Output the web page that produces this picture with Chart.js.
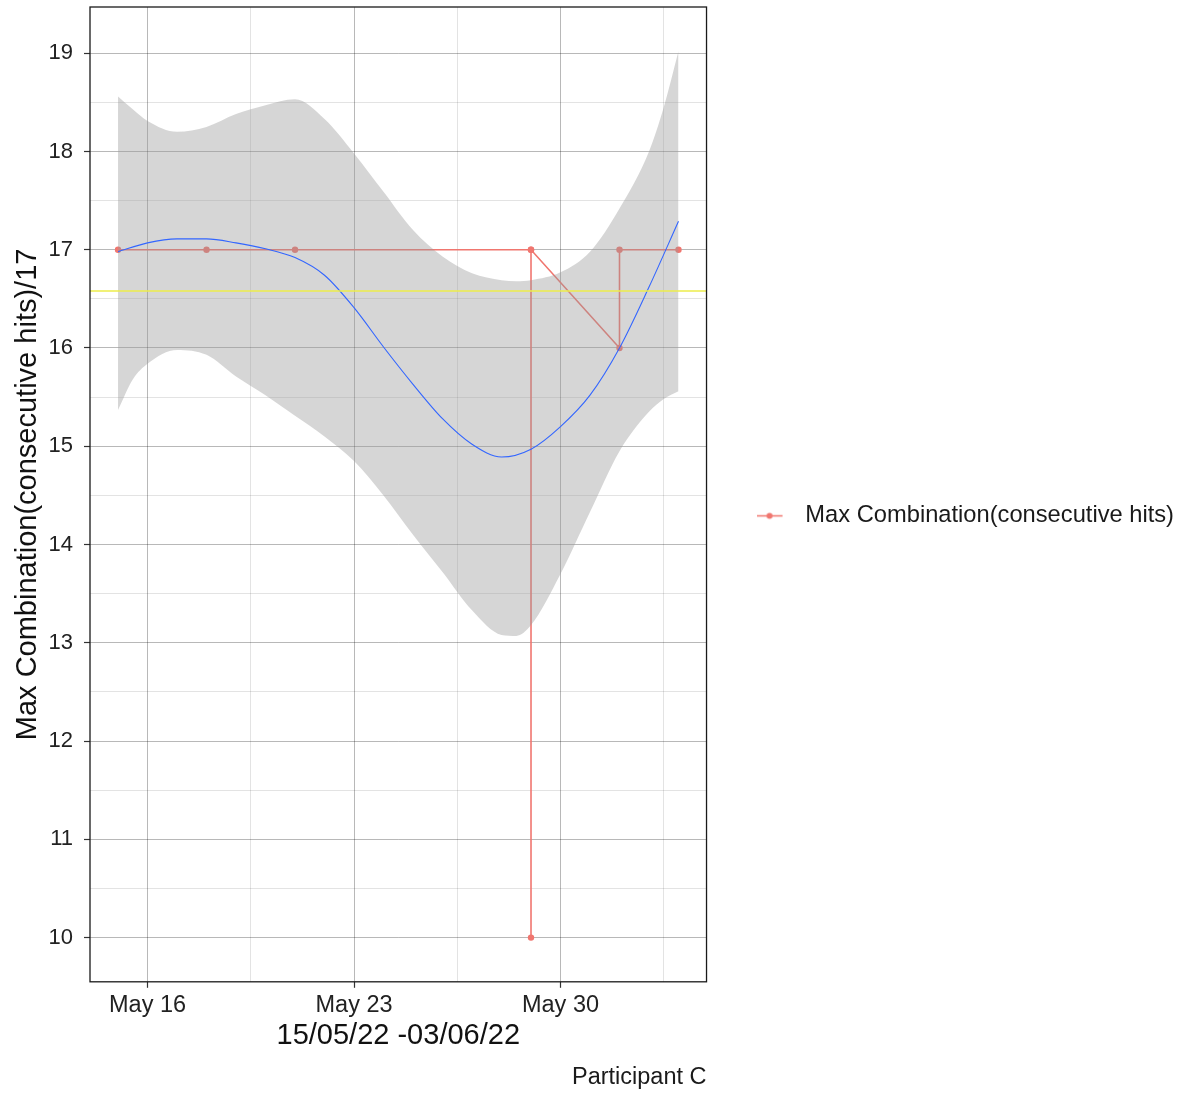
<!DOCTYPE html>
<html>
<head>
<meta charset="utf-8">
<script src="https://cdn.jsdelivr.net/npm/chart.js@4.4.0/dist/chart.umd.min.js"></script>
<style>
  html, body { margin: 0; padding: 0; background: #fff; }
  canvas { display: block; }
</style>
</head>
<body>
<canvas id="chart" width="1186" height="1095"></canvas>
<script>
// observations in plotting order (several readings on May 29 and Jun 1)
const obsDates = ['2022-05-15', '2022-05-18', '2022-05-21', '2022-05-29', '2022-05-29', '2022-05-29', '2022-06-01', '2022-06-01', '2022-06-03'];
const obsValues = [17, 17, 17, 17, 10, 17, 16, 17, 17];

// smoothed fit, x in days after May 16
const smoothDays = [-1, 0, 1, 2, 3, 4, 5, 6, 7, 8, 9, 10, 11, 12, 13, 14, 15, 16, 17, 18];
const smoothFit = [16.98, 17.07, 17.11, 17.11, 17.07, 17.01, 16.92, 16.74, 16.41, 16.01, 15.63, 15.28, 15.02, 14.89, 14.97, 15.2, 15.52, 16.0, 16.62, 17.29];

// confidence band round the fit
const bandDays = [-1, -0.5, 0, 1, 2, 3, 4, 5, 6, 7, 8, 9, 10, 11, 12, 12.5, 13, 14, 15, 16, 17, 17.5, 18];
const bandLower = [15.37, 15.68, 15.84, 15.98, 15.93, 15.71, 15.52, 15.31, 15.1, 14.85, 14.5, 14.1, 13.72, 13.33, 13.08, 13.07, 13.18, 13.7, 14.33, 14.95, 15.35, 15.48, 15.56];
const bandUpper = [18.56, 18.43, 18.31, 18.2, 18.25, 18.38, 18.47, 18.53, 18.33, 17.98, 17.59, 17.2, 16.93, 16.76, 16.69, 16.68, 16.69, 16.77, 16.98, 17.42, 18.0, 18.45, 19.02];

const meanLine = 16.58;

const xTickDays = [0, 7, 14];
const xTickLabels = ['May 16', 'May 23', 'May 30'];
const yTickValues = [10, 11, 12, 13, 14, 15, 16, 17, 18, 19];
const xRange = [-1.95, 18.95];
const yRange = [9.55, 19.47];

const red = '#F0766F';
const majorGrid = 'rgba(0,0,0,0.28)';
const minorGrid = 'rgba(0,0,0,0.11)';

const day0 = Date.parse('2022-05-16');
const dayOf = s => (Date.parse(s) - day0) / 86400000;
const pairs = (xs, ys) => xs.map((x, i) => ({ x: x, y: ys[i] }));

const xMinor = xTickDays.map(d => d + 3.5);
const yMinor = yTickValues.map(v => v + 0.5).filter(v => v < yRange[1]);
const isMajorX = v => xTickDays.includes(v);
const isMajorY = v => Number.isInteger(v);

// legend key: short line with a dot
const key = document.createElement('canvas');
key.width = 37; key.height = 9;
const k = key.getContext('2d');
k.strokeStyle = red; k.lineWidth = 1.5;
k.beginPath(); k.moveTo(0, 4.5); k.lineTo(26, 4.5); k.stroke();
k.fillStyle = red;
k.beginPath(); k.arc(13, 4.5, 3, 0, Math.PI * 2); k.fill();

const panelBorder = {
  id: 'panelBorder',
  afterDatasetsDraw(chart) {
    const { ctx, chartArea: a } = chart;
    ctx.save();
    ctx.strokeStyle = '#1a1a1a';
    ctx.lineWidth = 1.3;
    ctx.strokeRect(a.left, a.top, a.right - a.left, a.bottom - a.top);
    ctx.restore();
  }
};

const noPad = s => { s.paddingTop = 0; s.paddingBottom = 0; s.paddingLeft = 0; s.paddingRight = 0; };

Chart.defaults.font.family = '"Liberation Sans", Arial, sans-serif';
Chart.defaults.color = '#1a1a1a';

new Chart(document.getElementById('chart').getContext('2d'), {
  type: 'line',
  data: {
    datasets: [
      {
        label: 'Max Combination(consecutive hits)',
        data: pairs(obsDates.map(dayOf), obsValues),
        borderColor: red, backgroundColor: red,
        borderWidth: 1.6, pointRadius: 3.2, pointBorderWidth: 0,
        order: 5
      },
      {
        label: 'lower',
        data: pairs(bandDays, bandLower),
        borderWidth: 0, pointRadius: 0, fill: false,
        cubicInterpolationMode: 'monotone', order: 4
      },
      {
        label: 'upper',
        data: pairs(bandDays, bandUpper),
        borderWidth: 0, pointRadius: 0, fill: '-1',
        backgroundColor: 'rgba(153,153,153,0.4)',
        cubicInterpolationMode: 'monotone', order: 4
      },
      {
        label: 'fit',
        data: pairs(smoothDays, smoothFit),
        borderColor: '#3366FF', borderWidth: 1.1, pointRadius: 0,
        cubicInterpolationMode: 'monotone', order: 3
      },
      {
        label: 'mean',
        data: pairs(xRange, [meanLine, meanLine]),
        borderColor: '#EDED4A', borderWidth: 1.6, pointRadius: 0,
        order: 2
      }
    ]
  },
  options: {
    responsive: false,
    animation: false,
    devicePixelRatio: 1,
    events: [],
    layout: { padding: { top: 7, right: 2, bottom: 0, left: 0 } },
    plugins: {
      tooltip: { enabled: false },
      legend: {
        position: 'right',
        align: 'start',
        maxWidth: 700,
        title: { display: true, text: '', font: { size: 10 }, padding: { top: 435, bottom: 0 } },
        labels: {
          usePointStyle: true, pointStyle: key, pointStyleWidth: 37,
          padding: 50, font: { size: 23.7 }, color: '#1a1a1a',
          filter: item => item.datasetIndex === 0
        }
      },
      subtitle: {
        display: true, position: 'bottom', align: 'end', fullSize: false,
        text: 'Participant C', font: { size: 23.5 }, color: '#1a1a1a',
        padding: { top: 6, bottom: 3 }
      }
    },
    scales: {
      x: {
        type: 'linear', min: xRange[0], max: xRange[1],
        afterBuildTicks: s => { s.ticks = xTickDays.concat(xMinor).sort((a, b) => a - b).map(v => ({ value: v })); },
        afterFit: s => { s.height = 76; noPad(s); },
        border: { display: false },
        grid: {
          color: c => (c.tick && isMajorX(c.tick.value)) ? majorGrid : minorGrid,
          tickColor: c => (c.tick && isMajorX(c.tick.value)) ? '#333' : 'rgba(0,0,0,0)',
          lineWidth: 1, tickLength: 6, tickWidth: 1.2
        },
        ticks: {
          autoSkip: false, maxRotation: 0, padding: 4,
          font: { size: 23.5 }, color: '#222',
          callback: v => { const i = xTickDays.indexOf(v); return i >= 0 ? xTickLabels[i] : ''; }
        },
        title: { display: true, text: '15/05/22 -03/06/22', font: { size: 29 }, color: '#111', padding: { top: 4, bottom: 4 } }
      },
      y: {
        min: yRange[0], max: yRange[1],
        afterBuildTicks: s => { s.ticks = yTickValues.concat(yMinor).sort((a, b) => a - b).map(v => ({ value: v })); },
        afterFit: s => { s.width = 90; noPad(s); },
        border: { display: false },
        grid: {
          color: c => (c.tick && isMajorY(c.tick.value)) ? majorGrid : minorGrid,
          tickColor: c => (c.tick && isMajorY(c.tick.value)) ? '#333' : 'rgba(0,0,0,0)',
          lineWidth: 1, tickLength: 6, tickWidth: 1.2
        },
        ticks: {
          autoSkip: false, padding: 11,
          font: { size: 22 }, color: '#222',
          callback: v => isMajorY(v) ? String(v) : ''
        },
        title: { display: true, text: 'Max Combination(consecutive hits)/17', font: { size: 29 }, color: '#111', padding: { top: 11, bottom: 0 } }
      }
    }
  },
  plugins: [panelBorder]
});
</script>
</body>
</html>
